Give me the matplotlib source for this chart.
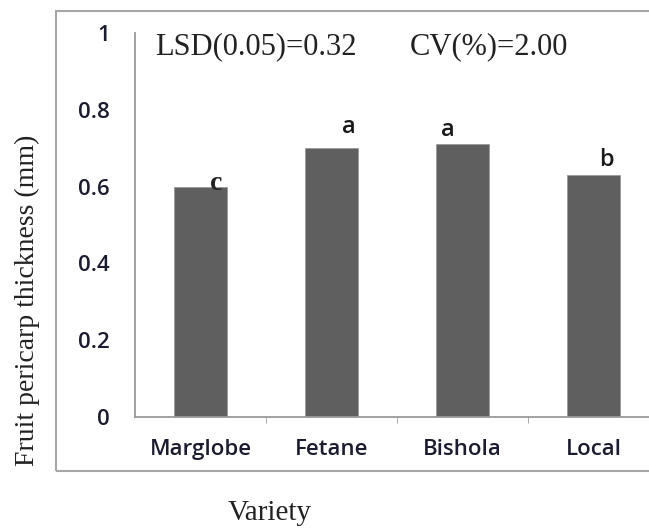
import matplotlib.pyplot as plt
from matplotlib.patches import Rectangle

# Data
varieties = ['Marglobe', 'Fetane', 'Bishola', 'Local']
thickness = [0.60, 0.70, 0.71, 0.63]
letters = ['c', 'a', 'a', 'b']
y_ticks = [0, 0.2, 0.4, 0.6, 0.8, 1]
y_tick_labels = ['0', '0.2', '0.4', '0.6', '0.8', '1']

fig = plt.figure(figsize=(6.49, 5.28), dpi=100)

# outer chart frame (runs off the right edge like the source)
fig.patches.append(Rectangle((56 / 649, 1 - 471 / 528), 1.0, (471 - 11) / 528,
                             transform=fig.transFigure, fill=False,
                             edgecolor='#a6a6a6', linewidth=1.5))

ax = fig.add_axes([135 / 649, 1 - 417 / 528, (659 - 135) / 649, (417 - 33) / 528])
x = range(len(varieties))
ax.bar(x, thickness, width=0.41, color='#5f5f5f', edgecolor='#9a9a9a', linewidth=0.6)

tick_font = dict(family='Open Sans', fontsize=16, fontweight='semibold', color='#1c1c30')
ax.set_xlim(-0.5, 3.5)
ax.set_ylim(0, 1)
ax.set_xticks(list(x))
ax.set_xticklabels(varieties, **tick_font)
ax.set_xticks([0.5, 1.5, 2.5], minor=True)
ax.tick_params(axis='x', which='major', length=0, pad=16)
ax.tick_params(axis='x', which='minor', length=4, color='#9a9a9a', direction='out')
ax.set_yticks(y_ticks)
ax.set_yticklabels(y_tick_labels, **tick_font)
ax.tick_params(axis='y', length=0, pad=18)

for s in ['top', 'right']:
    ax.spines[s].set_visible(False)
for s in ['left', 'bottom']:
    ax.spines[s].set_color('#9a9a9a')
    ax.spines[s].set_linewidth(1.3)

# significance letters
dx = [0.12, 0.13, -0.11, 0.10]
dy = [0.009, 0.055, 0.037, 0.039]
for i, (lab, v) in enumerate(zip(letters, thickness)):
    if lab == 'c':
        ax.text(i + dx[i], v + dy[i], lab, family='Liberation Serif', fontweight='bold',
                fontsize=20, ha='center', va='center', color='#222222')
    else:
        ax.text(i + dx[i], v + dy[i], lab, family='Open Sans', fontweight='semibold',
                fontsize=17, ha='center', va='center', color='#1a1a1a')

fig.text(155 / 649, 1 - 47 / 528, 'LSD(0.05)=0.32', family='Liberation Serif',
         fontsize=22, va='center', ha='left', color='#222222')
fig.text(410 / 649, 1 - 47 / 528, 'CV(%)=2.00', family='Liberation Serif',
         fontsize=22, va='center', ha='left', color='#222222')

fig.text(27 / 649, 1 - 300 / 528, 'Fruit pericarp thickness (mm)', rotation=90,
         family='Liberation Serif', fontsize=20, va='center', ha='center', color='#222222')
fig.text(270 / 649, 1 - 513 / 528, 'Variety', family='Liberation Serif', fontsize=21,
         va='center', ha='center', color='#222222')

fig.savefig('out.png', dpi=100)
